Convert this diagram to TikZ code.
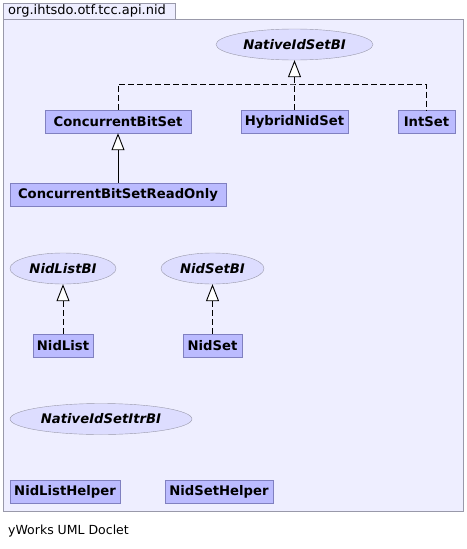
\documentclass[tikz,border=0pt]{standalone}
\usepackage{fontspec}
\setmainfont{DejaVu Sans}
\usetikzlibrary{arrows.meta,shapes.geometric}
\definecolor{pkgfill}{HTML}{EEEEFF}
\definecolor{pkgdraw}{HTML}{9999AA}
\definecolor{clsfill}{HTML}{BBBBFF}
\definecolor{clsdraw}{HTML}{8080C0}
\definecolor{ifcfill}{HTML}{DDDDFF}
\definecolor{ifcdraw}{HTML}{9999AA}
\tikzset{
  cls/.style={draw=clsdraw, fill=clsfill, inner sep=0pt, minimum height=23pt,
    font=\fontsize{13.2}{15}\selectfont\bfseries},
  ifc/.style={ellipse, draw=ifcdraw, fill=ifcfill, inner sep=0pt, minimum height=31pt,
    font=\fontsize{13.2}{15}\selectfont\bfseries\itshape},
  inh/.style={-{Triangle[length=17pt,width=13pt,fill=white]}, line width=0.9pt},
  impl/.style={inh, dash pattern=on 6pt off 3pt},
}
\begin{document}
\begin{tikzpicture}[x=1pt,y=-1pt]
\useasboundingbox (0,0) rectangle (466,549);
\fill[white] (0,0) rectangle (466,549);
% package
\draw[draw=pkgdraw, fill=pkgfill] (3,3) rectangle (175,19);
\draw[draw=pkgdraw, fill=pkgfill] (3,19) rectangle (463,511);
\node[anchor=west, inner sep=0pt, font=\fontsize{13}{14}\selectfont] (pkg) at (8,11) {org.ihtsdo.otf.tcc.api.nid};
% interfaces
\node[ifc, minimum width=157pt] (nisbi) at (294.5,44.5) {NativeIdSetBI};
\node[ifc, minimum width=106pt] (nlbi) at (63,268.5) {NidListBI};
\node[ifc, minimum width=103pt] (nsbi) at (212.5,268.5) {NidSetBI};
\node[ifc, minimum width=182pt] (nisibi) at (101,419) {NativeIdSetItrBI};
% classes
\node[cls, minimum width=146pt] (cbs) at (118,121.5) {ConcurrentBitSet};
\node[cls, minimum width=107pt] (hns) at (294.5,121.5) {HybridNidSet};
\node[cls, minimum width=57pt] (ints) at (426.5,121.5) {IntSet};
\node[cls, minimum width=216pt] (cbsro) at (118,194.5) {ConcurrentBitSetReadOnly};
\node[cls, minimum width=60pt] (nl) at (63,345.5) {NidList};
\node[cls, minimum width=59pt] (ns) at (212.5,345.5) {NidSet};
\node[cls, minimum width=110pt] (nlh) at (65,491.5) {NidListHelper};
\node[cls, minimum width=108pt] (nsh) at (219,491.5) {NidSetHelper};
% connectors
\coordinate (j) at (294.5,84);
\draw[impl] (hns.north) -- (nisbi.south);
\draw[line width=0.9pt, dash pattern=on 6pt off 3pt] (cbs.north) |- (j) -| (ints.north);
\draw[inh] (cbsro.north) -- (cbs.south);
\draw[impl] (nl.north) -- (nlbi.south);
\draw[impl] (ns.north) -- (nsbi.south);
% footer
\node[anchor=west, inner sep=0pt, font=\fontsize{12.5}{14}\selectfont] (foot) at (8,531) {yWorks UML Doclet};
\end{tikzpicture}
\end{document}
